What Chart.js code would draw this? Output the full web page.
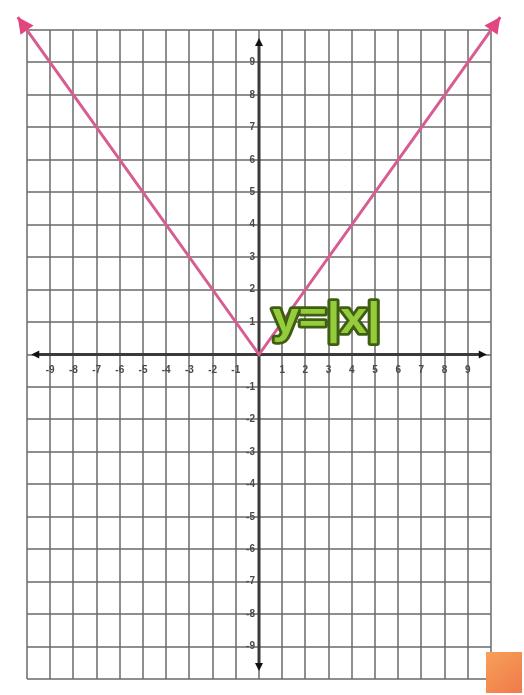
<!DOCTYPE html>
<html>
<head>
<meta charset="utf-8">
<script src="https://cdn.jsdelivr.net/npm/chart.js@4.4.1/dist/chart.umd.min.js"></script>
<style>
  html, body { margin: 0; padding: 0; background: #fff; }
  #wrap { width: 524px; height: 695px; position: relative; }
</style>
</head>
<body>
<div id="wrap"><canvas id="absChart"></canvas></div>
<script>
// ---- data: graf y = |x| ----
const lineX = [-10.4, 0, 10.4];
const lineY = [10.4, 0, 10.4];
const xTickLabels = [-9, -8, -7, -6, -5, -4, -3, -2, -1, 1, 2, 3, 4, 5, 6, 7, 8, 9];
const yTickLabels = [9, 8, 7, 6, 5, 4, 3, 2, 1, -1, -2, -3, -4, -5, -6, -7, -8, -9];
const gridMin = -10;
const gridMax = 10;
const axisEnd = 9.6;          // hujung anak panah paksi
const equationText = 'y=|x|';
const equationPos = { x: 2.9, y: 0.65 };

const GRID_COLOR = 'rgba(105,105,105,0.75)';
const AXIS_COLOR = '#3a3a3a';
const LINE_COLOR = '#d85c92';

// lukis paksi x/y dan nombor di atasnya
const axesPlugin = {
    id: 'axesPlugin',
    beforeDatasetsDraw(chart) {
        const { ctx, scales: { x, y } } = chart;
        const x0 = x.getPixelForValue(0), y0 = y.getPixelForValue(0);
        ctx.save();
        ctx.strokeStyle = AXIS_COLOR;
        ctx.lineWidth = 3;
        ctx.beginPath();
        ctx.moveTo(x.getPixelForValue(-axisEnd), y0);
        ctx.lineTo(x.getPixelForValue(axisEnd), y0);
        ctx.moveTo(x0, y.getPixelForValue(axisEnd));
        ctx.lineTo(x0, y.getPixelForValue(-axisEnd));
        ctx.stroke();

        // anak panah kecil (hitam) di hujung paksi
        ctx.fillStyle = '#111';
        const heads = [
            [x.getPixelForValue(-axisEnd), y0, -1, 0],
            [x.getPixelForValue(axisEnd), y0, 1, 0],
            [x0, y.getPixelForValue(axisEnd), 0, -1],
            [x0, y.getPixelForValue(-axisEnd), 0, 1]
        ];
        heads.forEach(([px, py, dx, dy]) => {
            ctx.beginPath();
            ctx.moveTo(px + dx * 5, py + dy * 5);
            ctx.lineTo(px - dx * 3 - dy * 4, py - dy * 3 - dx * 4);
            ctx.lineTo(px - dx * 3 + dy * 4, py - dy * 3 + dx * 4);
            ctx.closePath();
            ctx.fill();
        });

        // nombor paksi
        ctx.fillStyle = '#4a4a4a';
        ctx.font = 'bold 10px "Liberation Sans", Arial, sans-serif';
        ctx.textAlign = 'center';
        ctx.textBaseline = 'middle';
        xTickLabels.forEach(v => ctx.fillText(String(v), x.getPixelForValue(v), y0 + 16));
        ctx.textAlign = 'right';
        yTickLabels.forEach(v => ctx.fillText(String(v), x0 - 4, y.getPixelForValue(v)));
        ctx.restore();
    },
    afterDatasetsDraw(chart) {
        const { ctx, scales: { x, y } } = chart;
        ctx.save();
        // anak panah merah jambu pada hujung garis
        ctx.fillStyle = '#e2457f';
        [[0, 1], [lineX.length - 1, lineX.length - 2]].forEach(([a, b]) => {
            const px = x.getPixelForValue(lineX[a]), py = y.getPixelForValue(lineY[a]);
            const qx = x.getPixelForValue(lineX[b]), qy = y.getPixelForValue(lineY[b]);
            const ang = Math.atan2(py - qy, px - qx);
            const len = 16, half = 8;
            ctx.beginPath();
            ctx.moveTo(px, py);
            ctx.lineTo(px - len * Math.cos(ang) + half * Math.sin(ang), py - len * Math.sin(ang) - half * Math.cos(ang));
            ctx.lineTo(px - len * Math.cos(ang) - half * Math.sin(ang), py - len * Math.sin(ang) + half * Math.cos(ang));
            ctx.closePath();
            ctx.fill();
        });

        // label persamaan hijau
        const ex = x.getPixelForValue(equationPos.x), ey = y.getPixelForValue(equationPos.y);
        ctx.translate(ex, ey);
        ctx.scale(1.2, 1.1);
        ctx.font = 'bold 40px "Liberation Sans", Arial, sans-serif';
        ctx.textAlign = 'center';
        ctx.textBaseline = 'alphabetic';
        ctx.lineJoin = 'round';
        ctx.lineWidth = 5;
        ctx.strokeStyle = '#3f5e14';
        ctx.strokeText(equationText, 0, 0);
        ctx.fillStyle = '#94cc3c';
        ctx.fillText(equationText, 0, 0);
        ctx.restore();

        // logo oren kecil di bucu kanan bawah
        ctx.save();
        const g = ctx.createLinearGradient(486, 650, 522, 693);
        g.addColorStop(0, '#f7a158');
        g.addColorStop(1, '#f07a4a');
        ctx.fillStyle = g;
        ctx.fillRect(486, 652, 36, 41);
        ctx.restore();
    }
};

const ctx = document.getElementById('absChart');
new Chart(ctx, {
    type: 'scatter',
    data: {
        datasets: [{
            data: lineX.map((v, i) => ({ x: v, y: lineY[i] })),
            showLine: true,
            borderColor: LINE_COLOR,
            borderWidth: 3,
            pointRadius: 0,
            clip: false,
            tension: 0
        }]
    },
    options: {
        responsive: true,
        maintainAspectRatio: false,
        animation: false,
        layout: { padding: { left: 27, right: 33, top: 30, bottom: 16 } },
        plugins: { legend: { display: false }, tooltip: { enabled: false } },
        scales: {
            x: {
                min: gridMin, max: gridMax,
                ticks: { display: false, stepSize: 1 },
                grid: { color: GRID_COLOR, lineWidth: 2, drawTicks: false },
                border: { display: false }
            },
            y: {
                min: gridMin, max: gridMax,
                ticks: { display: false, stepSize: 1 },
                grid: { color: GRID_COLOR, lineWidth: 2, drawTicks: false },
                border: { display: false }
            }
        }
    },
    plugins: [axesPlugin]
});
</script>
</body>
</html>
